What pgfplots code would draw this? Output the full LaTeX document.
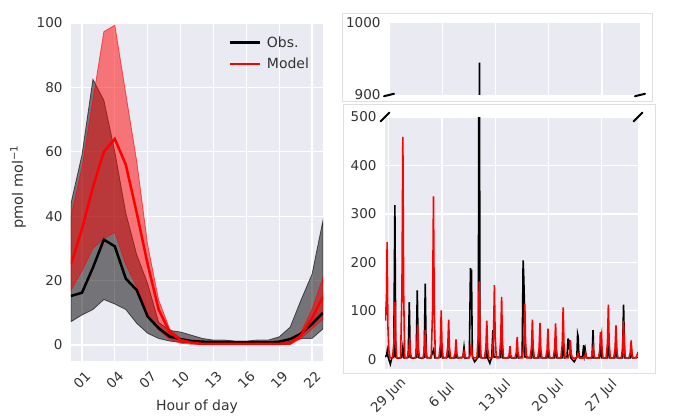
\documentclass[border=0pt]{standalone}
\usepackage{pgfplots}
\pgfplotsset{compat=1.18}
\usepackage{fontspec}
\setmainfont{DejaVu Sans}
\definecolor{bg}{HTML}{EAEAF2}
\definecolor{txt}{HTML}{333333}
\pgfplotsset{sbstyle/.style={
  scale only axis,
  axis background/.style={fill=bg},
  axis line style={draw=none},
  grid=major,
  grid style={white, line width=1.2pt},
  major tick length=0pt,
  tick style={draw=none},
  ticklabel style={font=\fontsize{13.5}{15}\selectfont, text=txt},
  label style={font=\fontsize{14}{16}\selectfont, text=txt},
  /pgf/number format/assume math mode=true,
  /pgf/number format/1000 sep={},
  yticklabel style={xshift=-5pt},
}}
\begin{document}
\begin{tikzpicture}
\useasboundingbox (0,0) rectangle (677pt,415pt);
% faint frames of the right panels
\draw[gray!25, line width=0.6pt] (342pt,314pt) rectangle (652pt,402pt);
\draw[gray!25, line width=0.6pt] (343pt,42pt) rectangle (655pt,311pt);

% ---------------- left panel ----------------
\begin{axis}[sbstyle,
  at={(71pt,54pt)}, anchor=south west,
  width=252pt, height=338pt,
  xmin=0, xmax=23, ymin=-5, ymax=100,
  xtick={1,4,7,10,13,16,19,22},
  xticklabels={01,04,07,10,13,16,19,22},
  ytick={0,20,40,60,80,100},
  xticklabel style={rotate=45, anchor=center},
  xticklabel shift=19pt,
  xlabel={Hour of day},
  ylabel={pmol mol\textsuperscript{−1}},
  xlabel style={at={(axis description cs:0.5,-0.136)}, anchor=center},
  ylabel style={at={(axis description cs:-0.21,0.515)}, anchor=center, font=\fontsize{14.5}{16}\selectfont},
  legend style={at={(axis description cs:0.965,0.972)}, anchor=north east,
    draw=none, fill=none, font=\fontsize{14}{17}\selectfont, text=txt,
    row sep=5pt, column sep=4pt},
  legend image code/.code={\draw[#1] (0pt,0pt) -- (30pt,0pt);},
  legend cell align=left,
]
% obs band
\addplot[draw=black, draw opacity=0.6, fill=black, fill opacity=0.5, line width=0.8pt, forget plot]
coordinates {
(0,44) (1,59) (2,82.5) (3,76) (4,60) (5,41) (6,28) (7,19) (8,7) (9,4.5) (10,4) (11,3)
(12,2) (13,1.5) (14,1.5) (15,1.2) (16,1.2) (17,1.5) (18,1.5) (19,2.5) (20,5.5) (21,14) (22,22) (23,38.7)
(23,5) (22,2) (21,2) (20,1) (19,0.6) (18,0.5) (17,0.5) (16,0.5) (15,0.5) (14,0.5) (13,0.5) (12,0.5)
(11,0.6) (10,0.8) (9,1.2) (8,2) (7,3.6) (6,6.7) (5,11) (4,12.7) (3,14.1) (2,11) (1,9.3) (0,7.2)
} -- cycle;
% model band
\addplot[draw=red, draw opacity=0.6, fill=red, fill opacity=0.5, line width=0.8pt, forget plot]
coordinates {
(0,40) (1,55) (2,76) (3,97.3) (4,99.3) (5,78) (6,57) (7,31) (8,14) (9,5) (10,2) (11,1)
(12,0.5) (13,0.4) (14,0.4) (15,0.4) (16,0.4) (17,0.4) (18,0.4) (19,0.4) (20,0.8) (21,4) (22,11) (23,21)
(23,8) (22,5) (21,2) (20,0.1) (19,0.1) (18,0.1) (17,0.1) (16,0.1) (15,0.1) (14,0.1) (13,0.1) (12,0.1)
(11,0.2) (10,0.5) (9,1.8) (8,4.6) (7,10) (6,18) (5,25) (4,35) (3,33) (2,30) (1,23) (0,17)
} -- cycle;
\addplot[black, line width=2.5pt] coordinates {
(0,15.2) (1,16.2) (2,24) (3,32.7) (4,30.6) (5,20.6) (6,17) (7,8.8) (8,5.2) (9,2.6) (10,1.8) (11,1.2)
(12,1) (13,0.9) (14,0.9) (15,0.8) (16,0.8) (17,0.8) (18,0.8) (19,1) (20,1.8) (21,3.5) (22,6.5) (23,10)
};
\addlegendentry{Obs.}
\addplot[red, line width=2.5pt] coordinates {
(0,25) (1,36) (2,49) (3,60) (4,64) (5,56) (6,41) (7,25) (8,11) (9,4) (10,1.5) (11,0.7)
(12,0.3) (13,0.3) (14,0.3) (15,0.3) (16,0.3) (17,0.3) (18,0.3) (19,0.3) (20,0.5) (21,3) (22,8.3) (23,15)
};
\addlegendentry{Model}
\end{axis}

% ---------------- right data ----------------
\def\obsdata{
(-0.5,5) (-0.3,8) (-0.2,18) (-0.1,5) (0.2,-10) (0.4,3) (0.65,5) (0.8,318) (0.92,5) (1.2,2)
(1.7,4) (1.85,25) (2.0,3) (2.55,4) (2.7,118) (2.82,4) (3.2,2) (3.6,4) (3.75,142) (3.88,4)
(4.3,2) (4.65,4) (4.8,156) (4.93,4) (5.5,3) (5.9,20) (6.05,3) (6.75,4) (6.9,25) (7.05,3)
(7.75,4) (7.9,15) (8.05,3) (8.7,3) (8.85,10) (9.0,3) (9.75,4) (9.9,25) (10.05,2) (10.6,4)
(10.75,188) (10.82,150) (10.88,185) (11.0,5) (11.3,-5) (11.78,5) (11.9,945) (12.0,5) (12.3,3)
(12.8,3) (12.9,15) (13.0,3) (13.3,-8) (13.55,5) (13.7,60) (13.82,5) (14.7,4) (14.85,43) (15.0,3)
(15.8,3) (15.95,10) (16.1,3) (16.75,3) (16.9,15) (17.05,3) (17.55,5) (17.68,204) (17.75,175)
(17.82,135) (17.92,5) (18.75,3) (18.9,30) (19.05,3) (19.75,3) (19.9,30) (20.05,3) (20.8,3)
(20.95,20) (21.1,3) (21.8,3) (21.95,30) (22.1,3) (22.8,3) (22.95,35) (23.1,3) (23.45,5)
(23.6,43) (23.7,20) (23.8,40) (23.95,3) (24.4,-5) (24.75,5) (24.85,52) (24.92,47) (25.0,15)
(25.1,5) (25.5,5) (25.65,29) (25.75,10) (25.85,20) (26.0,3) (26.75,3) (26.88,60) (27.0,3)
(27.75,3) (27.9,30) (28.05,3) (28.75,3) (28.9,30) (29.05,3) (29.75,3) (29.9,39) (30.05,3)
(30.75,3) (30.9,113) (31.05,3) (31.75,3) (31.9,25) (32.05,3) (32.8,4)
}
\def\moddata{
(-0.44,80) (-0.3,130) (-0.22,242) (-0.12,70) (0.0,20) (0.15,3)
(0.5,3) (0.68,35) (0.8,118) (0.9,35) (1.05,3)
(1.55,3) (1.73,140) (1.85,459) (1.95,140) (2.1,3)
(2.45,3) (2.63,13) (2.75,43) (2.85,13) (3.0,3)
(3.5,3) (3.68,22) (3.8,72) (3.9,22) (4.05,3)
(4.5,3) (4.68,18) (4.8,60) (4.9,18) (5.05,3)
(5.58,3) (5.76,100) (5.88,336) (5.98,100) (6.13,3)
(6.6,3) (6.78,30) (6.9,101) (7.0,30) (7.15,3)
(7.58,3) (7.76,25) (7.88,82) (7.98,25) (8.13,3)
(8.55,3) (8.73,12) (8.85,41) (8.95,12) (9.1,3)
(9.6,3) (9.78,6) (9.9,15) (10.0,6) (10.15,3)
(10.55,3) (10.73,10) (10.85,32) (10.95,10) (11.1,3)
(11.6,3) (11.78,48) (11.9,161) (12.0,48) (12.15,3)
(12.6,3) (12.78,24) (12.9,80) (13.0,24) (13.15,3)
(13.6,3) (13.78,46) (13.9,153) (14.0,46) (14.15,3)
(14.55,3) (14.73,39) (14.85,129) (14.95,39) (15.1,3)
(15.65,3) (15.83,8) (15.95,27) (16.05,8) (16.2,3)
(16.6,3) (16.78,14) (16.9,46) (17.0,14) (17.15,3)
(17.6,3) (17.78,35) (17.9,115) (18.0,35) (18.15,3)
(18.6,3) (18.78,25) (18.9,82) (19.0,25) (19.15,3)
(19.6,3) (19.78,22) (19.9,75) (20.0,22) (20.15,3)
(20.65,3) (20.83,19) (20.95,63) (21.05,19) (21.2,3)
(21.65,3) (21.83,22) (21.95,74) (22.05,22) (22.2,3)
(22.65,3) (22.83,32) (22.95,107) (23.05,32) (23.2,3)
(23.6,3) (23.78,12) (23.9,39) (24.0,12) (24.15,3)
(24.6,2) (24.78,5) (24.9,12) (25.0,5) (25.15,2)
(25.6,2) (25.78,5) (25.9,12) (26.0,5) (26.15,2)
(26.6,3) (26.78,8) (26.9,25) (27.0,8) (27.15,3)
(27.6,3) (27.78,20) (27.85,56) (27.92,45) (28.0,52) (28.08,15) (28.2,3)
(28.6,3) (28.78,34) (28.9,113) (29.0,34) (29.15,3)
(29.6,3) (29.78,21) (29.9,70) (30.0,21) (30.15,3)
(30.6,3) (30.78,24) (30.9,79) (31.0,24) (31.15,3)
(31.6,3) (31.78,12) (31.9,39) (32.0,12) (32.15,3)
(32.55,3) (32.8,15)
}

% ---------------- top right panel ----------------
\begin{axis}[sbstyle, name=top,
  at={(389pt,320pt)}, anchor=south west,
  width=251pt, height=72pt,
  xmin=0, xmax=33, ymin=900, ymax=1000,
  xtick={0,7,14,21,28}, xticklabels={},
  ytick={900,1000},
  ymajorgrids=false,
]
\addplot[black, line width=1.6pt] coordinates {\obsdata};
\addplot[red, line width=1.6pt] coordinates {\moddata};
\end{axis}

% ---------------- bottom right panel ----------------
\begin{axis}[sbstyle, name=bot,
  at={(385pt,46pt)}, anchor=south west,
  width=253pt, height=252pt,
  xmin=-0.5, xmax=32.8, ymin=-20, ymax=500,
  xtick={0,7,14,21,28},
  xticklabels={29 Jun,6 Jul,13 Jul,20 Jul,27 Jul},
  ytick={0,100,200,300,400,500},
  xticklabel style={rotate=45, anchor=center},
  xticklabel shift=27pt,
]
\addplot[black, line width=1.6pt] coordinates {\obsdata};
\addplot[red, line width=1.6pt] coordinates {\moddata};
\end{axis}

% break marks
\draw[line width=2pt, line cap=round] ([shift={(-5pt,-1.2pt)}]top.south west) -- ([shift={(5pt,1.2pt)}]top.south west);
\draw[line width=2pt, line cap=round] ([shift={(-5pt,-1.2pt)}]top.south east) -- ([shift={(5pt,1.2pt)}]top.south east);
\draw[line width=2pt, line cap=round] ([shift={(-4.5pt,-4.5pt)}]bot.north west) -- ([shift={(4.5pt,4.5pt)}]bot.north west);
\draw[line width=2pt, line cap=round] ([shift={(-4.5pt,-4.5pt)}]bot.north east) -- ([shift={(4.5pt,4.5pt)}]bot.north east);
\end{tikzpicture}
\end{document}
